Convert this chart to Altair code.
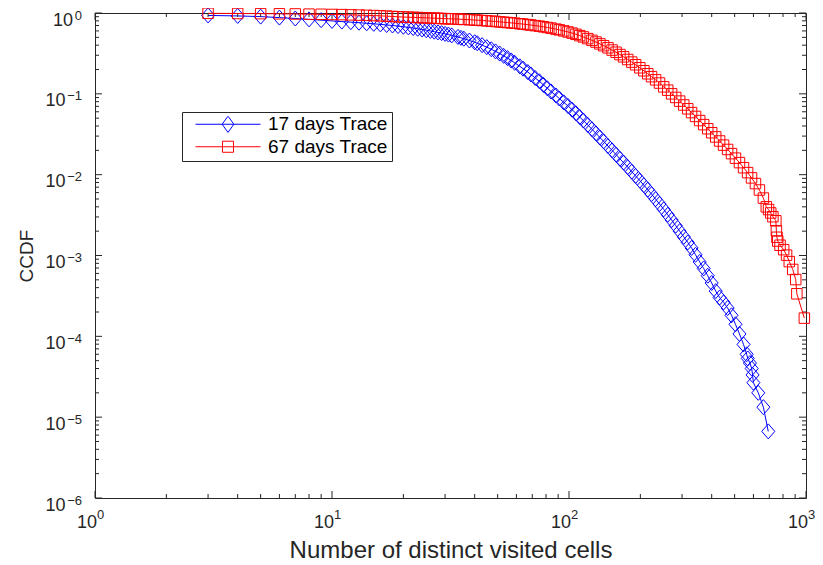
import altair as alt
import pandas as pd

SERIES = ["17 days Trace", "67 days Trace"]
COLORS = ["#0000ff", "#ff0000"]

blue_x = [3, 4, 5, 6, 7, 8, 9, 10, 11, 12, 13, 14, 15, 16, 17, 18, 19, 20, 21, 22,
          23, 24, 25, 26, 27, 28, 29, 30, 31, 32,
          34, 35, 36, 38, 40, 41, 43, 45, 47, 49,
          51, 53, 55, 57, 59, 62, 64, 67, 69, 72,
          75, 78, 81, 84, 88, 91, 95, 99, 103, 107,
          111, 115, 120, 125, 130, 135, 140, 146, 152, 158,
          164, 170, 177, 184, 191, 199, 207, 215, 223, 232,
          241, 251, 261, 271, 282, 293, 305, 317, 329, 342,
          356, 370, 385, 400, 416, 432, 449, 467, 485, 504,
          524, 545,
          562, 568, 580, 590, 595, 600, 629, 661, 693]
blue_y = [0.933, 0.920, 0.902, 0.877, 0.855, 0.834, 0.815, 0.798, 0.783, 0.771,
          0.759, 0.746, 0.735, 0.723, 0.711, 0.700, 0.689, 0.676, 0.664, 0.652,
          0.638, 0.625, 0.612, 0.600, 0.587, 0.575, 0.564, 0.552, 0.541, 0.528,
          0.505, 0.493, 0.481, 0.457, 0.435, 0.423, 0.400, 0.378, 0.356, 0.335,
          0.315, 0.295, 0.277, 0.259, 0.242, 0.219, 0.205, 0.186, 0.174, 0.157,
          0.143, 0.129, 0.117, 0.107, 0.0955, 0.0875, 0.0785, 0.0708, 0.0637, 0.0574,
          0.0516, 0.0467, 0.0412, 0.0365, 0.0324, 0.0288, 0.0258, 0.0226, 0.0200, 0.0177,
          0.0157, 0.0141, 0.0124, 0.0109, 0.00966, 0.00845, 0.00741, 0.00652, 0.00574, 0.00498,
          0.00434, 0.00372, 0.00319, 0.00275, 0.00234, 0.00200, 0.00170, 0.00145, 0.00124, 0.00102,
          0.000832, 0.000692, 0.000562, 0.000457, 0.000363, 0.000302, 0.000263, 0.000224, 0.000182, 0.000141,
          0.000107, 0.0000794,
          0.0000600, 0.0000533, 0.0000467, 0.0000400, 0.0000333, 0.0000267, 0.0000200, 0.0000133, 0.00000667]

red_x = [3, 4, 5, 6, 7, 8, 9, 10, 11, 12, 13, 14, 15, 16, 17, 18, 19, 20, 21, 22,
         23, 24, 25, 26, 27, 28, 29, 30, 31, 32,
         34, 35, 36, 38, 40, 41, 43, 45, 47, 49,
         51, 53, 55, 57, 59, 62, 64, 67, 69, 72,
         75, 78, 81, 84, 88, 91, 95, 99, 103, 107,
         111, 115, 120, 125, 130, 135, 140, 146, 152, 158,
         164, 170, 177, 184, 191, 199, 207, 215, 223, 232,
         241, 251, 261, 271, 282, 293, 305, 317, 329, 342,
         356, 370, 385, 400, 416, 432, 449, 467, 485, 504,
         524, 545, 567, 589, 612, 636, 661,
         680, 695, 710, 725, 746, 750, 754, 760, 777, 805, 828, 850, 879, 905, 915, 984]
red_y = [0.991, 0.986, 0.982, 0.977, 0.973, 0.968, 0.964, 0.959, 0.955, 0.948,
         0.942, 0.935, 0.929, 0.923, 0.914, 0.906, 0.897, 0.891, 0.887, 0.883,
         0.879, 0.875, 0.871, 0.867, 0.863, 0.859, 0.855, 0.851, 0.849, 0.845,
         0.839, 0.836, 0.832, 0.826, 0.818, 0.815, 0.807, 0.800, 0.793, 0.785,
         0.776, 0.769, 0.762, 0.755, 0.748, 0.736, 0.729, 0.718, 0.710, 0.698,
         0.687, 0.675, 0.662, 0.650, 0.632, 0.619, 0.601, 0.583, 0.564, 0.545,
         0.525, 0.506, 0.482, 0.459, 0.437, 0.415, 0.394, 0.371, 0.348, 0.327,
         0.306, 0.287, 0.266, 0.247, 0.229, 0.210, 0.193, 0.177, 0.163, 0.149,
         0.136, 0.122, 0.111, 0.100, 0.0902, 0.0813, 0.0728, 0.0653, 0.0586, 0.0525,
         0.0467, 0.0416, 0.0370, 0.0330, 0.0293, 0.0261, 0.0232, 0.0205, 0.0182, 0.0160,
         0.0141, 0.0122, 0.0106, 0.00912, 0.00776, 0.00646, 0.00513,
         0.00400, 0.00370, 0.00336, 0.00302, 0.00269, 0.00202, 0.00168, 0.00151, 0.00134,
         0.00118, 0.00101, 0.00084, 0.000672, 0.000504, 0.000336, 0.000168]

# tick values and label parts ("10" with a superscript exponent)
x_major = [1, 10, 100, 1000]
x_base = ["10", "10", "10", "10"]
x_exp = ["0", "1", "2", "3"]
y_major = [1e-6, 1e-5, 1e-4, 1e-3, 1e-2, 1e-1, 1]
y_base = ["10", "10", "10", "10", "10", "10", "10"]
y_exp = ["−6", "−5", "−4", "−3", "−2", "−1", "0"]
x_minor = [m * 10 ** e for e in range(0, 3) for m in range(2, 10)]
y_minor = [m * 10.0 ** e for e in range(-6, 0) for m in range(2, 10)]

W, H = 711, 485
MAJ, MIN = 7, 4
AX = "#262626"
FONT = "Liberation Sans"
BASE_FS, EXP_FS = 18, 13

DIAMOND = "M0,-1L0.87,0L0,1L-0.87,0Z"
LEG_DIAMOND = "M-1,0H1M0,-0.25L0.18,0L0,0.25L-0.18,0Z"
LEG_SQUARE = "M-1,0H1M-0.17,-0.17H0.17V0.17H-0.17Z"

xs = alt.Scale(type="log", domain=[1, 1000], nice=False)
ys = alt.Scale(type="log", domain=[1e-6, 1], nice=False)

x_axis = alt.Axis(
    labels=False, ticks=False, domain=False, grid=False,
    title="Number of distinct visited cells", titleFont=FONT, titleFontSize=24,
    titleFontWeight="normal", titleColor=AX, titleBaseline="alphabetic", titleY=59,
)
y_axis = alt.Axis(
    labels=False, ticks=False, domain=False, grid=False,
    title="CCDF", titleFont=FONT, titleFontSize=19, titleFontWeight="normal",
    titleColor=AX, titleBaseline="alphabetic", titleX=-63,
)

blue = pd.DataFrame({"x": blue_x, "y": blue_y, "series": SERIES[0]})
red = pd.DataFrame({"x": red_x, "y": red_y, "series": SERIES[1]})
both = pd.concat([blue, red], ignore_index=True)


def tick_layer(values, axis, length, side):
    df = pd.DataFrame({"v": values})
    ch = alt.Chart(df).mark_rule(color=AX, strokeWidth=1)
    if axis == "x":
        enc = dict(x=alt.X("v:Q", scale=xs))
        if side == "bottom":
            enc.update(y=alt.value(H), y2=alt.value(H - length))
        else:
            enc.update(y=alt.value(0), y2=alt.value(length))
    else:
        enc = dict(y=alt.Y("v:Q", scale=ys))
        if side == "left":
            enc.update(x=alt.value(0), x2=alt.value(length))
        else:
            enc.update(x=alt.value(W), x2=alt.value(W - length))
    return ch.encode(**enc)


ticks = [
    tick_layer(x_major, "x", MAJ, "bottom"), tick_layer(x_major, "x", MAJ, "top"),
    tick_layer(x_minor, "x", MIN, "bottom"), tick_layer(x_minor, "x", MIN, "top"),
    tick_layer(y_major, "y", MAJ, "left"), tick_layer(y_major, "y", MAJ, "right"),
    tick_layer(y_minor, "y", MIN, "left"), tick_layer(y_minor, "y", MIN, "right"),
]

# tick labels: "10" plus a raised exponent
xl = pd.DataFrame({"v": x_major, "base": x_base, "exp": x_exp})
yl = pd.DataFrame({"v": y_major, "base": y_base, "exp": y_exp})
txt = dict(font=FONT, color=AX, baseline="middle")

x_lab_base = alt.Chart(xl).mark_text(align="right", dx=2, fontSize=BASE_FS, **txt).encode(
    x=alt.X("v:Q", scale=xs), y=alt.value(H + 24.7), text="base:N")
x_lab_exp = alt.Chart(xl).mark_text(align="left", dx=2, fontSize=EXP_FS, **txt).encode(
    x=alt.X("v:Q", scale=xs), y=alt.value(H + 16.8), text="exp:N")
y_lab_exp = alt.Chart(yl).mark_text(align="right", dy=2.5, fontSize=EXP_FS, **txt).encode(
    y=alt.Y("v:Q", scale=ys), x=alt.value(-13), text="exp:N")
y_lab_base0 = alt.Chart(yl).transform_filter("datum.exp == '0'").mark_text(
    align="right", dy=7.5, fontSize=BASE_FS, **txt).encode(
    y=alt.Y("v:Q", scale=ys), x=alt.value(-22), text="base:N")
y_lab_base = alt.Chart(yl).transform_filter("datum.exp != '0'").mark_text(
    align="right", dy=7.5, fontSize=BASE_FS, **txt).encode(
    y=alt.Y("v:Q", scale=ys), x=alt.value(-29.5), text="base:N")

blue_line = alt.Chart(blue).mark_line(color=COLORS[0], strokeWidth=1).encode(
    x=alt.X("x:Q", scale=xs, axis=x_axis), y=alt.Y("y:Q", scale=ys, axis=y_axis))
blue_pts = alt.Chart(blue).mark_point(
    shape=DIAMOND, size=225, filled=False, color=COLORS[0], strokeWidth=1, opacity=1
).encode(x=alt.X("x:Q", scale=xs), y=alt.Y("y:Q", scale=ys))
red_line = alt.Chart(red).mark_line(color=COLORS[1], strokeWidth=1).encode(
    x=alt.X("x:Q", scale=xs), y=alt.Y("y:Q", scale=ys))
red_pts = alt.Chart(red).mark_point(
    shape="square", size=110, filled=False, color=COLORS[1], strokeWidth=1, opacity=1
).encode(x=alt.X("x:Q", scale=xs), y=alt.Y("y:Q", scale=ys))

leg = alt.Legend(
    title=None, orient="none", legendX=87, legendY=99, direction="vertical",
    symbolSize=4225, symbolStrokeWidth=1, clipHeight=16, symbolOffset=8.75,
    labelOffset=7, labelFont=FONT, labelFontSize=19, labelColor="#000000",
    padding=4.25, rowPadding=3.5, strokeColor=AX, fillColor="white",
)
legend_layer = alt.Chart(both).mark_point(size=0, filled=False, strokeWidth=1, opacity=1).encode(
    x=alt.X("x:Q", scale=xs),
    y=alt.Y("y:Q", scale=ys),
    color=alt.Color("series:N", scale=alt.Scale(domain=SERIES, range=COLORS), legend=leg),
    shape=alt.Shape("series:N", scale=alt.Scale(domain=SERIES, range=[LEG_DIAMOND, LEG_SQUARE]), legend=leg),
)

chart = alt.layer(
    blue_line, *ticks, x_lab_base, x_lab_exp, y_lab_exp, y_lab_base0, y_lab_base,
    blue_pts, red_line, red_pts, legend_layer
).properties(
    width=W, height=H,
    autosize=alt.AutoSizeParams(type="none"),
    padding={"left": 87, "top": 5, "right": 9, "bottom": 66},
    background="white",
).configure_view(stroke=AX, strokeWidth=1)

chart.save("out.html", embed_options={"renderer": "svg", "actions": False})
